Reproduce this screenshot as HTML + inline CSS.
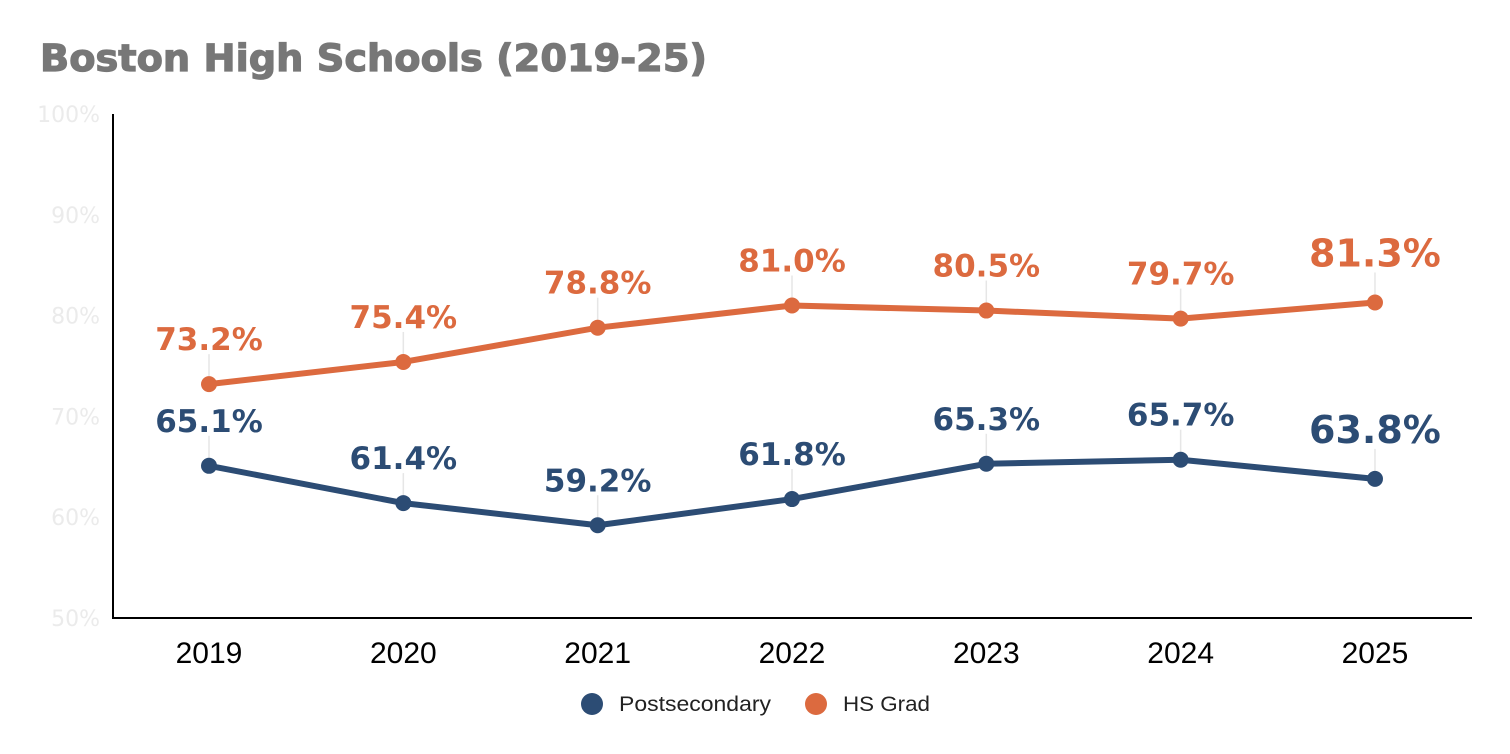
<!DOCTYPE html>
<html><head><meta charset="utf-8"><style>
body{margin:0;background:#fff;}
svg{display:block;}
</style></head><body>
<svg id="chart" width="1510" height="754" xmlns="http://www.w3.org/2000/svg">
<text x="40" y="71" font-family="DejaVu Sans, Verdana, sans-serif" font-weight="bold" font-size="37" fill="#777" stroke="#777" stroke-width="1.2" textLength="667" lengthAdjust="spacingAndGlyphs">Boston High Schools (2019-25)</text>
<g id="yaxis"></g>
<g id="xaxis"></g>
<g id="series"></g>
<g>
<circle cx="592" cy="704" r="11" fill="#2c4c74"/>
<text x="619" y="711" font-family="Liberation Sans, sans-serif" font-size="21" fill="#222" textLength="152" lengthAdjust="spacingAndGlyphs">Postsecondary</text>
<circle cx="816" cy="704" r="11" fill="#dc6a3f"/>
<text x="843" y="711" font-family="Liberation Sans, sans-serif" font-size="21" fill="#222" textLength="87" lengthAdjust="spacingAndGlyphs">HS Grad</text>
</g>
</svg>
<script>
const years = ["2019","2020","2021","2022","2023","2024","2025"];
const postsecondary = [65.1, 61.4, 59.2, 61.8, 65.3, 65.7, 63.8];
const hsGrad = [73.2, 75.4, 78.8, 81.0, 80.5, 79.7, 81.3];
const yTicks = [50, 60, 70, 80, 90, 100];

const NS = "http://www.w3.org/2000/svg";
const x = i => 209 + i * 194.33;
const y = v => 618 - (v - 50) * 10.08;
function mk(tag, attrs, parent, txt){
  const e = document.createElementNS(NS, tag);
  for (const k in attrs) e.setAttribute(k, attrs[k]);
  if (txt !== undefined) e.textContent = txt;
  parent.appendChild(e); return e;
}
const ya = document.getElementById('yaxis');
yTicks.forEach(t => {
  const el = mk('text', {x:100, y:y(t)+8, 'text-anchor':'end', 'font-family':'DejaVu Sans, Verdana, sans-serif', 'font-size':'22', fill:'#ebebeb'}, ya, t + '%');
  
  
});
const yl = mk('line', {x1:113, y1:114, x2:113, y2:619, stroke:'#000', 'stroke-width':2}, ya);


const xa = document.getElementById('xaxis');
const xl = mk('line', {x1:112, y1:618, x2:1472, y2:618, stroke:'#000', 'stroke-width':2}, xa);


years.forEach((yr, i) => {
  const el = mk('text', {x:x(i), y:663, 'text-anchor':'middle', 'font-family':'Liberation Sans, sans-serif', 'font-size':'30', fill:'#000'}, xa, yr);
  
  
});
const sg = document.getElementById('series');
function drawSeries(vals, color, name){
  vals.forEach((v, i) => {
    const ld = mk('line', {x1:x(i), y1:y(v)-30, x2:x(i), y2:y(v), stroke:'#e6e6e6', 'stroke-width':1.5}, sg);
    
    
  });
  const pl = mk('polyline', {points: vals.map((v,i)=>x(i)+','+y(v)).join(' '), fill:'none', stroke:color, 'stroke-width':6, 'stroke-linejoin':'round'}, sg);
  
  
  vals.forEach((v, i) => {
    const c = mk('circle', {cx:x(i), cy:y(v), r:8, fill:color}, sg);
    
    
    const last = i === vals.length - 1;
    const t = mk('text', {x:x(i), y:y(v) - (last ? 36 : 34), 'text-anchor':'middle', 'font-family':'DejaVu Sans, Verdana, sans-serif', 'font-weight':'bold', 'font-size': last ? 38 : 31, fill:color}, sg, v.toFixed(1) + '%');
    
    
  });
}
drawSeries(hsGrad, '#dc6a3f', 'hs-grad');
drawSeries(postsecondary, '#2c4c74', 'postsecondary');
</script>
</body></html>
